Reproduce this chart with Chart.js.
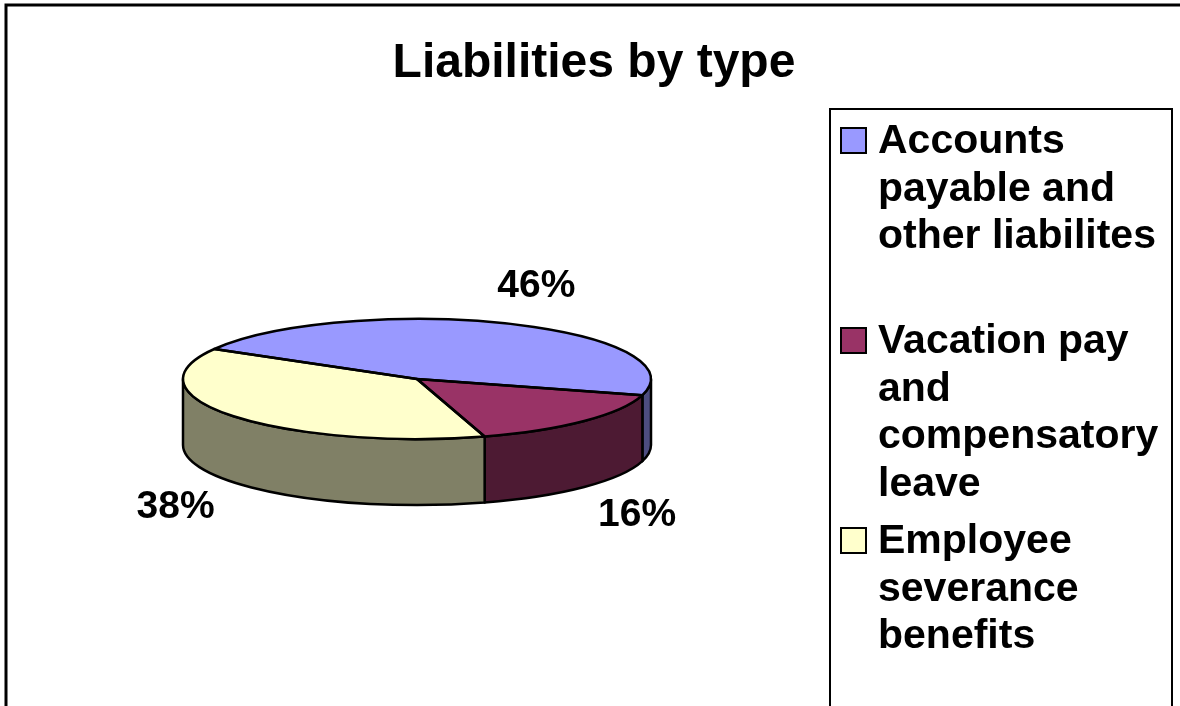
<!DOCTYPE html>
<html>
<head>
<meta charset="utf-8">
<script src="https://cdn.jsdelivr.net/npm/chart.js@4"></script>
<style>
  body { margin: 0; background: #fff; }
  canvas { display: block; }
</style>
</head>
<body>
<canvas id="pie" width="1180" height="706"></canvas>
<script>
// --- dados ---
const titulo = "Liabilities by type";
const categorias = ["Accounts payable and other liabilites", "Vacation pay and compensatory leave", "Employee severance benefits"];
// linhas da legenda como aparecem quebradas na imagem
const legendaLinhas = [
    ["Accounts", "payable and", "other liabilites"],
    ["Vacation pay", "and", "compensatory", "leave"],
    ["Employee", "severance", "benefits"]
];
const valores = [46, 16, 38];
const cores = ["#9999FF", "#993366", "#FFFFCC"];

const FONTE = '"Liberation Sans", Arial, sans-serif';
const ALTURA_RY = 60;   // raio vertical da elipse
const PROFUNDIDADE = 66; // espessura do "bolo"
const LINHA = 2.5;

function escurecer(hex) {
    const n = parseInt(hex.slice(1), 16);
    const r = (n >> 16) & 255, g = (n >> 8) & 255, b = n & 255;
    return `rgb(${Math.round(r / 2)},${Math.round(g / 2)},${Math.round(b / 2)})`;
}

// plugin que achata a pizza e desenha a lateral 3D
const pizza3d = {
    id: 'pizza3d',
    beforeDatasetsDraw(chart) {
        const ctx = chart.ctx;
        const arcs = chart.getDatasetMeta(0).data;
        const cx = arcs[0].x, cy = arcs[0].y, rx = arcs[0].outerRadius, ry = ALTURA_RY;

        // laterais (so a metade da frente aparece)
        arcs.forEach((arc, i) => {
            for (let k = -1; k <= 1; k++) {
                const lo = Math.max(arc.startAngle, k * 2 * Math.PI);
                const hi = Math.min(arc.endAngle, k * 2 * Math.PI + Math.PI);
                if (hi <= lo) continue;
                ctx.save();
                ctx.beginPath();
                ctx.ellipse(cx, cy, rx, ry, 0, lo, hi, false);
                ctx.ellipse(cx, cy + PROFUNDIDADE, rx, ry, 0, hi, lo, true);
                ctx.closePath();
                ctx.fillStyle = escurecer(cores[i]);
                ctx.fill();
                ctx.lineWidth = LINHA;
                ctx.lineJoin = 'round';
                ctx.strokeStyle = '#000';
                ctx.stroke();
                ctx.restore();
            }
        });

        // achata o topo
        ctx.save();
        ctx.translate(cx, cy);
        ctx.scale(1, ry / rx);
        ctx.translate(-cx, -cy);
    },
    afterDatasetsDraw(chart) {
        const ctx = chart.ctx;
        ctx.restore();
        const arcs = chart.getDatasetMeta(0).data;
        const cx = arcs[0].x, cy = arcs[0].y, rx = arcs[0].outerRadius, ry = ALTURA_RY;

        ctx.save();
        ctx.lineWidth = LINHA;
        ctx.lineJoin = 'round';
        ctx.strokeStyle = '#000';
        arcs.forEach(arc => {
            ctx.beginPath();
            ctx.moveTo(cx, cy);
            ctx.ellipse(cx, cy, rx, ry, 0, arc.startAngle, arc.endAngle, false);
            ctx.closePath();
            ctx.stroke();
        });

        // rotulos de porcentagem
        const total = valores.reduce((a, b) => a + b, 0);
        ctx.fillStyle = '#000';
        ctx.font = `bold 39px ${FONTE}`;
        ctx.textAlign = 'center';
        ctx.textBaseline = 'middle';
        arcs.forEach((arc, i) => {
            const meio = (arc.startAngle + arc.endAngle) / 2;
            const s = Math.sin(meio);
            const x = cx + Math.cos(meio) * (rx + 74);
            const y = cy + s * (ry + 41) + (s > 0 ? PROFUNDIDADE : 0);
            ctx.fillText(Math.round(valores[i] / total * 100) + "%", x, y);
        });
        ctx.restore();
    },
    afterDraw(chart) {
        const ctx = chart.ctx;
        ctx.save();
        // moldura externa
        ctx.strokeStyle = '#000';
        ctx.lineWidth = 3;
        ctx.strokeRect(6, 5, 1300, 900);

        // titulo
        ctx.fillStyle = '#000';
        ctx.font = `bold 48px ${FONTE}`;
        ctx.textAlign = 'center';
        ctx.textBaseline = 'alphabetic';
        ctx.fillText(titulo, 594, 77);

        // legenda
        ctx.lineWidth = 2;
        ctx.strokeRect(830, 109, 342, 700);
        ctx.font = `bold 41px ${FONTE}`;
        ctx.textAlign = 'left';
        legendaLinhas.forEach((linhas, i) => {
            const base = 153 + i * 200;
            ctx.fillStyle = cores[i];
            ctx.fillRect(841, base - 25, 25, 25);
            ctx.lineWidth = 2;
            ctx.strokeRect(841, base - 25, 25, 25);
            ctx.fillStyle = '#000';
            linhas.forEach((t, j) => ctx.fillText(t, 878, base + j * 47.5));
        });
        ctx.restore();
    }
};

new Chart(document.getElementById('pie'), {
    type: 'pie',
    data: {
        labels: categorias,
        datasets: [{
            data: valores,
            backgroundColor: cores,
            borderWidth: 0,
            radius: 234
        }]
    },
    options: {
        responsive: false,
        animation: false,
        events: [],
        rotation: -60,
        layout: { padding: { left: 100, right: 446, top: 100, bottom: 48 } },
        plugins: {
            legend: { display: false },
            title: { display: false },
            tooltip: { enabled: false }
        }
    },
    plugins: [pizza3d]
});
</script>
</body>
</html>
